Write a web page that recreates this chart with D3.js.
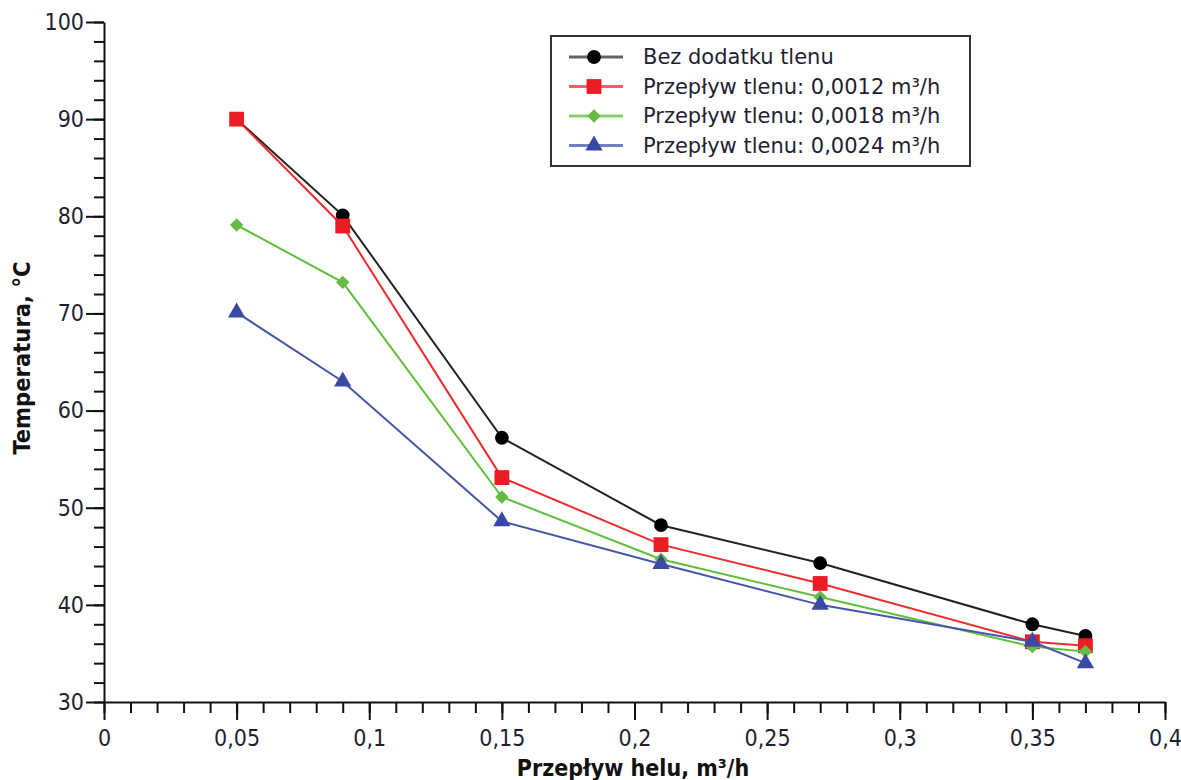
<!DOCTYPE html>
<html>
<head>
<meta charset="utf-8">
<script src="https://cdn.jsdelivr.net/npm/d3@7"></script>
<style>
body{margin:0;background:#fff}
svg{display:block}
.tick text{font-family:"DejaVu Sans Condensed","DejaVu Sans",sans-serif;fill:#1f1f33}
</style>
</head>
<body>
<div id="chart"></div>
<script>
// helium flow, m3/h
var flowX = [0.05, 0.09, 0.15, 0.21, 0.27, 0.35, 0.37]
var tempNoO2  = [90.0, 80.1, 57.2, 48.2, 44.3, 38.0, 36.8]
var tempO2_12 = [90.0, 79.0, 53.1, 46.2, 42.2, 36.2, 35.8]
var tempO2_18 = [79.1, 73.2, 51.1, 44.7, 40.8, 35.7, 35.2]
var tempO2_24 = [70.1, 63.0, 48.6, 44.2, 40.0, 36.2, 34.0]
var seriesNames = ["Bez dodatku tlenu",
		   "Przepływ tlenu: 0,0012 m³/h",
		   "Przepływ tlenu: 0,0018 m³/h",
		   "Przepływ tlenu: 0,0024 m³/h"]
var xTicks = [0, 0.05, 0.1, 0.15, 0.2, 0.25, 0.3, 0.35, 0.4]
var yTicks = [30, 40, 50, 60, 70, 80, 90, 100]

var W = 1181, H = 780
var mLeft = 104, mRight = 1165, mTop = 22, mBottom = 702

var svg = d3.select('#chart').append('svg')
    .attr('width', W).attr('height', H)

var x = d3.scaleLinear().domain([0, 0.4]).range([mLeft, mRight])
var y = d3.scaleLinear().domain([30, 100]).range([mBottom, mTop])

function fmt(v){ return String(+v.toFixed(2)).replace('.', ',') }

// minor ticks first
svg.append('g')
    .attr('transform', 'translate(0,' + mBottom + ')')
    .call(d3.axisBottom(x).tickValues(d3.range(0, 41).map(function(i){return i/100}))
	  .tickSize(11).tickFormat(''))
    .call(function(g){ g.select('.domain').remove() })
svg.append('g')
    .attr('transform', 'translate(' + mLeft + ',0)')
    .call(d3.axisLeft(y).tickValues(d3.range(30, 101, 2)).tickSize(10).tickFormat(''))
    .call(function(g){ g.select('.domain').remove() })

var xa = svg.append('g')
    .attr('transform', 'translate(0,' + mBottom + ')')
    .call(d3.axisBottom(x).tickValues(xTicks).tickSize(18).tickSizeOuter(0)
	  .tickPadding(10).tickFormat(fmt))
var ya = svg.append('g')
    .attr('transform', 'translate(' + mLeft + ',0)')
    .call(d3.axisLeft(y).tickValues(yTicks).tickSize(18).tickSizeOuter(0)
	  .tickPadding(2).tickFormat(fmt))

svg.selectAll('.tick line').attr('stroke', '#111').attr('stroke-width', 2)
svg.selectAll('.domain').attr('stroke', '#111').attr('stroke-width', 2)
svg.selectAll('.tick text').style('font-size', '23px')

// axis titles
svg.append('text')
    .attr('x', 633).attr('y', 776)
    .attr('text-anchor', 'middle')
    .style('font-family', '"DejaVu Sans Condensed","DejaVu Sans",sans-serif')
    .style('font-weight', 'bold').style('font-size', '23px').style('fill', '#111')
    .text('Przepływ helu, m³/h')
svg.append('text')
    .attr('transform', 'translate(30,358) rotate(-90)')
    .attr('text-anchor', 'middle')
    .style('font-family', '"DejaVu Sans Condensed","DejaVu Sans",sans-serif')
    .style('font-weight', 'bold').style('font-size', '23.5px').style('fill', '#111')
    .text('Temperatura, °C')

// rot: marker rotation in degrees (the diamond is a turned square)
var series = [
    {vals: tempNoO2,  line: '#222', fill: '#000', shape: d3.symbolCircle,   size: 150, rot: 0},
    {vals: tempO2_12, line: '#ef2b2d', fill: '#ec1c24', shape: d3.symbolSquare,   size: 220, rot: 0},
    {vals: tempO2_18, line: '#5fbf3c', fill: '#66bb44', shape: d3.symbolSquare,  size: 90, rot: 45},
    {vals: tempO2_24, line: '#4556aa', fill: '#3a4aa4', shape: d3.symbolTriangle, size: 130, rot: 0}
]

var line = d3.line()
    .x(function(d){ return x(d[0]) })
    .y(function(d){ return y(d[1]) })

series.forEach(function(s, i){
    var pts = flowX.map(function(v, k){ return [v, s.vals[k]] })
    var g = svg.append('g').attr('class', 'series' + i)
    g.append('path').datum(pts)
	.attr('d', line).attr('fill', 'none')
	.attr('stroke', s.line).attr('stroke-width', 2)
    g.selectAll('path.mk').data(pts).enter().append('path')
	.attr('class', 'mk')
	.attr('transform', function(d){
	    return 'translate(' + x(d[0]) + ',' + y(d[1]) + ') rotate(' + s.rot + ')' })
	.attr('d', d3.symbol().type(s.shape).size(s.size))
	.attr('fill', s.fill)
})

// legend
var lg = svg.append('g').attr('transform', 'translate(551,36)')
lg.append('rect').attr('width', 419).attr('height', 130)
    .attr('fill', '#fff').attr('stroke', '#333').attr('stroke-width', 2)
series.forEach(function(s, i){
    var yy = 21 + i * 29.5
    lg.append('line').attr('x1', 18).attr('x2', 72).attr('y1', yy).attr('y2', yy)
	.attr('stroke', s.line).attr('stroke-width', 3).attr('opacity', i == 0 ? 0.7 : 0.75)
    lg.append('path').attr('transform', 'translate(43,' + yy + ') rotate(' + s.rot + ')')
	.attr('d', d3.symbol().type(s.shape).size(s.size)).attr('fill', s.fill)
    lg.append('text').attr('x', 92).attr('y', yy + 7)
	.style('font-family', '"DejaVu Sans",sans-serif')
	.style('font-size', '21px').style('fill', '#1f1f33')
	.text(seriesNames[i])
})
</script>
</body>
</html>
